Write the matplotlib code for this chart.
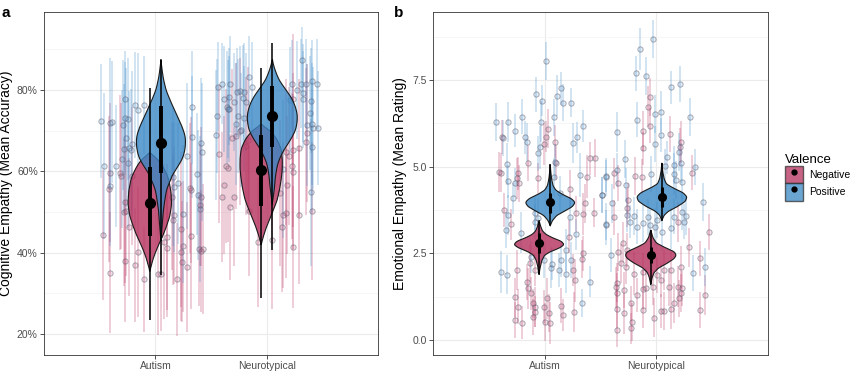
import numpy as np
import matplotlib.pyplot as plt
from matplotlib.patches import Patch
from matplotlib.lines import Line2D
from matplotlib.ticker import FuncFormatter, FixedLocator
from matplotlib.colors import to_rgba

plt.rcParams['font.family'] = ['Liberation Sans', 'DejaVu Sans']

neg_col = '#B5305C'
pos_col = '#3A88C5'
groups = ['Autism', 'Neurotypical']

# ---- panel a: per-participant accuracy (x jitter, mean %, interval half-width)
cog_aut_neg = [(0.58, 55.6, 18), (0.59, 59.7, 17), (0.53, 44.3, 16), (0.59, 35.1, 15), (0.68, 59.7, 19),
               (0.69, 58.9, 18), (0.79, 58.9, 17), (0.73, 52.4, 20), (0.74, 50.3, 16), (0.72, 49.9, 18),
               (0.76, 46.2, 17), (0.73, 38.0, 15), (0.82, 37.0, 14), (0.84, 40.1, 16), (0.90, 33.4, 13),
               (1.02, 34.7, 15), (1.05, 34.7, 14), (1.10, 43.9, 18), (1.10, 41.1, 17), (1.08, 42.7, 19),
               (1.16, 48.0, 16), (1.15, 53.8, 18), (1.17, 49.3, 17), (1.23, 45.7, 19), (1.32, 55.4, 18),
               (1.31, 55.8, 16), (1.41, 53.8, 17), (1.40, 51.7, 15), (1.32, 44.0, 18), (1.25, 41.5, 16),
               (1.23, 40.1, 17), (1.24, 37.8, 15), (1.28, 36.4, 16), (1.39, 40.8, 14), (1.41, 40.5, 15),
               (1.43, 40.8, 16), (1.19, 33.4, 14)]
cog_aut_pos = [(0.51, 72.4, 14), (0.59, 71.8, 16), (0.61, 72.2, 15), (0.54, 61.3, 18), (0.65, 61.3, 15),
               (0.70, 63.0, 17), (0.73, 77.7, 12), (0.71, 71.4, 16), (0.73, 73.0, 14), (0.75, 72.8, 15),
               (0.74, 68.3, 17), (0.72, 65.4, 16), (0.76, 65.7, 14), (0.78, 65.3, 15), (0.79, 66.7, 18),
               (0.75, 62.0, 16), (0.82, 76.3, 13), (0.84, 75.2, 14), (0.90, 76.3, 12), (1.16, 58.7, 17),
               (1.17, 56.2, 16), (1.20, 57.0, 15), (1.28, 63.8, 18), (1.33, 68.5, 15), (1.33, 75.7, 14),
               (1.41, 66.9, 16), (1.42, 64.8, 17), (1.37, 59.3, 15), (1.40, 50.7, 18), (1.38, 54.2, 16),
               (1.25, 49.5, 17), (0.59, 56.5, 15)]
cog_nt_neg = [(1.69, 68.1, 17), (1.72, 68.7, 18), (1.57, 64.3, 17), (1.63, 61.3, 19), (1.65, 60.7, 18),
              (1.62, 56.6, 17), (1.60, 53.6, 16), (1.67, 51.2, 18), (1.71, 53.8, 17), (1.84, 50.3, 16),
              (1.76, 69.8, 18), (1.81, 66.2, 17), (1.83, 67.7, 18), (2.24, 77.7, 16), (2.36, 69.4, 17),
              (2.35, 67.3, 18), (2.29, 65.7, 17), (2.24, 65.3, 19), (2.17, 64.8, 18), (2.20, 63.8, 17),
              (2.23, 61.3, 18), (2.24, 59.9, 19), (2.18, 56.6, 17), (2.12, 54.6, 18), (2.41, 50.3, 17),
              (2.17, 49.7, 16), (2.15, 49.3, 18), (2.29, 49.3, 17), (2.14, 46.4, 16), (2.24, 41.3, 15),
              (2.05, 43.1, 17), (1.92, 42.7, 16)]
cog_nt_pos = [(1.56, 80.8, 11), (1.60, 81.6, 10), (1.67, 81.4, 12), (1.62, 77.8, 13), (1.66, 78.4, 12),
              (1.64, 75.7, 14), (1.66, 75.4, 13), (1.65, 75.3, 12), (1.55, 73.6, 14), (1.71, 77.1, 12),
              (1.73, 79.4, 11), (1.76, 79.8, 11), (1.80, 79.6, 12), (1.79, 78.0, 13), (1.81, 77.1, 12),
              (1.84, 83.3, 10), (1.87, 80.8, 11), (1.74, 73.6, 14), (1.72, 71.6, 15), (1.54, 68.9, 16),
              (1.80, 73.0, 13), (1.77, 70.2, 14), (2.23, 81.4, 11), (2.27, 80.0, 12), (2.31, 81.6, 11),
              (2.33, 79.3, 12), (2.35, 81.6, 11), (2.41, 82.3, 10), (2.45, 81.5, 11), (2.32, 87.4, 8),
              (2.21, 77.5, 13), (2.33, 77.7, 12), (2.40, 77.4, 13), (2.39, 74.3, 14), (2.41, 71.6, 15),
              (2.42, 70.6, 15), (2.46, 70.6, 14), (2.36, 71.4, 15), (2.41, 65.9, 16), (2.15, 60.5, 17),
              (2.40, 54.8, 18)]

# ---- panel b: per-participant ratings
emo_aut_neg = [(1.03, 6.10, 0.55), (0.62, 5.86, 0.50), (1.01, 5.86, 0.45), (0.99, 5.65, 0.60), (1.09, 5.72, 0.48),
               (0.85, 5.10, 0.52), (1.10, 5.12, 0.50), (0.59, 4.84, 0.58), (0.61, 4.83, 0.55), (0.76, 4.81, 0.47),
               (0.75, 4.66, 0.60), (0.77, 4.52, 0.53), (0.94, 4.66, 0.45), (1.23, 4.37, 0.52), (1.41, 5.24, 0.48),
               (1.45, 5.24, 0.55), (1.38, 4.71, 0.62), (0.64, 3.75, 0.50), (0.70, 3.34, 0.45), (1.36, 3.94, 0.57),
               (1.28, 3.65, 0.50), (1.34, 3.63, 0.60), (1.44, 3.67, 0.42), (1.22, 2.98, 0.48), (1.33, 2.35, 0.55),
               (1.34, 2.50, 0.50), (1.27, 1.73, 0.62), (1.25, 2.02, 0.47), (0.87, 2.21, 0.53), (0.91, 2.02, 0.45),
               (0.75, 2.02, 0.58), (0.84, 1.68, 0.52), (0.85, 1.49, 0.60), (0.88, 1.35, 0.48), (0.73, 1.23, 0.55),
               (0.76, 0.96, 0.50), (0.90, 1.06, 0.42), (0.91, 0.96, 0.57), (0.91, 0.82, 0.45), (0.90, 0.67, 0.52),
               (1.02, 1.20, 0.60), (0.99, 0.96, 0.48), (1.04, 0.77, 0.55), (1.15, 0.99, 0.50), (1.16, 0.72, 0.46),
               (1.26, 0.82, 0.58), (0.73, 0.58, 0.52), (0.80, 0.50, 0.47), (1.00, 0.53, 0.55), (1.05, 0.50, 0.60)]
emo_aut_pos = [(1.01, 8.05, 0.55), (0.92, 7.09, 0.50), (0.98, 6.90, 0.45), (1.11, 7.05, 0.60), (1.15, 7.26, 0.48),
               (1.16, 6.85, 0.52), (1.24, 6.84, 0.42), (0.80, 6.44, 0.50), (0.67, 6.28, 0.58), (0.56, 6.30, 0.55),
               (0.73, 6.04, 0.47), (0.97, 6.30, 0.60), (1.08, 6.42, 0.53), (1.34, 6.17, 0.45), (0.63, 5.82, 0.52),
               (0.82, 5.85, 0.48), (0.84, 5.72, 0.55), (0.96, 5.56, 0.62), (0.94, 5.38, 0.50), (1.29, 5.85, 0.45),
               (1.25, 5.69, 0.57), (1.09, 5.14, 0.50), (0.66, 5.08, 0.60), (0.73, 4.54, 0.42), (0.67, 4.58, 0.48),
               (1.08, 4.71, 0.55), (1.14, 4.23, 0.50), (1.32, 4.76, 0.62), (1.55, 4.73, 0.47), (1.51, 4.18, 0.53),
               (0.72, 4.09, 0.45), (0.67, 3.60, 0.58), (0.65, 3.17, 0.52), (0.79, 3.10, 0.60), (0.91, 3.65, 0.48),
               (0.94, 3.53, 0.55), (0.91, 3.41, 0.50), (1.55, 3.32, 0.42), (1.23, 3.56, 0.57), (1.28, 3.05, 0.45),
               (1.24, 2.31, 0.52), (1.19, 2.60, 0.60), (1.15, 2.31, 0.48), (1.19, 1.92, 0.55), (1.13, 2.02, 0.50),
               (1.07, 2.19, 0.46), (1.06, 2.09, 0.58), (0.99, 2.31, 0.52), (0.88, 2.40, 0.47), (0.66, 1.89, 0.55),
               (0.61, 1.97, 0.60), (1.33, 1.06, 0.40), (1.41, 1.68, 0.45)]
emo_nt_neg = [(1.94, 7.00, 0.55), (1.93, 6.73, 0.60), (1.94, 6.18, 0.50), (1.88, 6.03, 0.58), (2.12, 5.94, 0.52),
              (2.22, 5.72, 0.60), (2.21, 5.56, 0.55), (1.88, 5.53, 0.48), (2.32, 4.83, 0.50), (1.62, 4.81, 0.45),
              (1.66, 4.52, 0.52), (1.81, 4.73, 0.55), (1.87, 4.71, 0.50), (1.75, 4.04, 0.48), (1.74, 3.80, 0.55),
              (1.62, 3.54, 0.50), (2.19, 3.41, 0.58), (2.47, 3.12, 0.52), (1.66, 2.55, 0.55), (1.70, 2.81, 0.60),
              (1.74, 2.60, 0.50), (1.68, 2.21, 0.55), (1.73, 2.10, 0.48), (1.80, 1.92, 0.62), (1.88, 1.97, 0.55),
              (2.01, 1.87, 0.50), (2.07, 2.02, 0.57), (2.13, 2.02, 0.52), (2.22, 2.10, 0.60), (2.29, 2.67, 0.55),
              (2.39, 2.36, 0.50), (1.65, 1.66, 0.55), (1.64, 1.52, 0.60), (1.71, 1.44, 0.52), (1.65, 1.35, 0.58),
              (1.83, 1.30, 0.50), (1.88, 1.46, 0.55), (1.91, 1.49, 0.60), (1.97, 1.54, 0.52), (2.04, 1.73, 0.48),
              (2.11, 1.54, 0.55), (2.19, 1.54, 0.60), (2.23, 1.49, 0.50), (2.22, 1.35, 0.55), (2.20, 1.20, 0.52),
              (2.16, 1.08, 0.58), (2.07, 0.84, 0.55), (2.04, 0.84, 0.50), (2.13, 0.91, 0.60), (1.88, 0.87, 0.52),
              (1.98, 0.65, 0.55), (1.77, 1.06, 0.50), (1.71, 0.77, 0.58), (1.78, 0.53, 0.55), (1.77, 0.34, 0.45),
              (1.65, 0.29, 0.50), (1.65, 0.91, 0.55), (2.39, 0.88, 0.52), (2.44, 1.30, 0.58)]
emo_nt_pos = [(1.97, 8.67, 0.55), (1.85, 8.39, 0.60), (1.82, 7.69, 0.50), (1.91, 7.61, 0.55), (2.13, 7.29, 0.48),
              (2.21, 7.38, 0.52), (1.99, 6.52, 0.55), (2.04, 6.59, 0.60), (1.83, 6.36, 0.50), (2.30, 6.42, 0.55),
              (1.65, 5.99, 0.58), (2.04, 5.91, 0.50), (1.99, 5.65, 0.52), (2.20, 5.43, 0.55), (2.10, 5.27, 0.48),
              (2.16, 5.05, 0.55), (2.08, 5.02, 0.50), (2.22, 5.11, 0.58), (2.35, 5.00, 0.52), (1.72, 5.21, 0.55),
              (1.65, 4.90, 0.50), (1.55, 4.71, 0.55), (1.95, 4.79, 0.52), (2.16, 4.79, 0.60), (2.23, 4.57, 0.50),
              (2.18, 4.62, 0.55), (1.73, 4.47, 0.48), (1.51, 4.18, 0.52), (1.60, 3.94, 0.55), (1.74, 3.61, 0.50),
              (1.80, 3.58, 0.55), (1.76, 3.41, 0.48), (1.55, 3.34, 0.60), (1.93, 3.56, 0.52), (1.88, 3.38, 0.55),
              (1.94, 3.32, 0.50), (1.99, 3.27, 0.55), (2.01, 3.46, 0.52), (1.83, 3.27, 0.50), (2.05, 3.12, 0.55),
              (2.13, 3.22, 0.58), (2.25, 3.41, 0.50), (2.27, 3.58, 0.55), (2.23, 3.70, 0.52), (2.16, 3.56, 0.50),
              (2.42, 3.97, 0.55), (1.59, 2.45, 0.50), (2.33, 1.94, 0.52), (2.44, 2.11, 0.55)]

# ---- violin outlines: (y, half-width) and group estimate (x, mean, 50% lo/hi, 95% lo/hi)
cog_viol_aut_neg = [(35.5, 0), (37, 0.015), (38.5, 0.03), (40, 0.05), (42, 0.08), (44, 0.115), (46.5, 0.15),
                    (49, 0.18), (52, 0.196), (55, 0.19), (58, 0.17), (60, 0.14), (62, 0.10), (63.5, 0.05), (64.5, 0)]
cog_viol_aut_pos = [(43, 0), (46, 0.01), (50, 0.02), (53, 0.035), (55.5, 0.05), (57.5, 0.08), (59.5, 0.11),
                    (61.5, 0.16), (63.5, 0.20), (66, 0.22), (68.5, 0.22), (71, 0.19), (74, 0.14), (77, 0.09),
                    (80, 0.045), (83, 0.02), (86, 0.005), (87.5, 0)]
cog_viol_nt_neg = [(42, 0), (44, 0.02), (46.5, 0.05), (48.5, 0.08), (50.5, 0.11), (53, 0.145), (55.5, 0.165),
                   (58, 0.18), (60.5, 0.19), (63, 0.19), (65.5, 0.18), (68, 0.14), (70, 0.08), (71.5, 0)]
cog_viol_nt_pos = [(52, 0), (54, 0.01), (56, 0.02), (58, 0.025), (60, 0.035), (62, 0.05), (64, 0.08), (66, 0.12),
                   (68, 0.17), (70.2, 0.21), (72.5, 0.225), (74.3, 0.223), (76.5, 0.20), (78.4, 0.165),
                   (80.5, 0.11), (82.5, 0.06), (84.5, 0.03), (86, 0.012), (87.5, 0)]
cog_est = {'aut_neg': (0.95, 52.3, 44.0, 61.0, 23.4, 80.5),
           'aut_pos': (1.05, 66.9, 59.5, 76.0, 34.5, 87.5),
           'nt_neg': (1.95, 60.2, 51.5, 69.0, 28.8, 85.3),
           'nt_pos': (2.05, 73.6, 66.0, 81.0, 40.6, 91.6)}

emo_viol_aut_neg = [(1.90, 0), (2.10, 0.01), (2.30, 0.025), (2.45, 0.05), (2.55, 0.10), (2.65, 0.18), (2.75, 0.225),
                    (2.85, 0.20), (2.95, 0.12), (3.05, 0.06), (3.15, 0.03), (3.30, 0.012), (3.45, 0)]
emo_viol_aut_pos = [(3.30, 0), (3.45, 0.02), (3.60, 0.06), (3.72, 0.13), (3.85, 0.20), (3.97, 0.223), (4.08, 0.19),
                    (4.20, 0.11), (4.32, 0.05), (4.45, 0.025), (4.65, 0.012), (4.85, 0.005), (5.05, 0)]
emo_viol_nt_neg = [(1.60, 0), (1.80, 0.012), (1.95, 0.03), (2.08, 0.07), (2.22, 0.15), (2.35, 0.21), (2.45, 0.228),
                   (2.55, 0.21), (2.68, 0.12), (2.80, 0.05), (2.95, 0.02), (3.17, 0)]
emo_viol_nt_pos = [(3.45, 0), (3.60, 0.02), (3.72, 0.06), (3.85, 0.14), (4.00, 0.21), (4.13, 0.225), (4.25, 0.19),
                   (4.37, 0.11), (4.50, 0.04), (4.65, 0.02), (4.85, 0.008), (5.10, 0)]
emo_est = {'aut_neg': (0.95, 2.79, 2.50, 3.08, 1.92, 3.41),
           'aut_pos': (1.05, 3.97, 3.65, 4.25, 3.32, 5.09),
           'nt_neg': (1.95, 2.45, 2.21, 2.69, 1.63, 3.17),
           'nt_pos': (2.05, 4.13, 3.85, 4.42, 3.46, 5.10)}


def draw_people(ax, rows, col):
    x, y, e = np.array(rows).T
    ax.vlines(x, y - e, y + e, colors=col, alpha=0.25, lw=1.3, zorder=2)
    return x, y


def draw_violin(ax, prof, xc, col):
    vy, vw = np.array(prof).T
    yy = np.linspace(vy[0], vy[-1], 300)
    ww = np.interp(yy, vy, vw)
    k = np.ones(15) / 15
    ww = np.convolve(np.pad(ww, 7, mode='edge'), k, mode='valid')
    ww[0] = ww[-1] = 0
    ax.fill_betweenx(yy, xc - ww, xc + ww, facecolor=col, alpha=0.8,
                     edgecolor='none', zorder=4)
    ax.plot(np.r_[xc - ww, (xc + ww)[::-1]], np.r_[yy, yy[::-1]], color='#1a1a1a', lw=0.8, zorder=4)


def draw_est(ax, est, big):
    x, m, lo50, hi50, lo95, hi95 = est
    ax.plot([x, x], [lo95, hi95], color='black', lw=1.1, zorder=5, solid_capstyle='butt')
    ax.plot([x, x], [lo50, hi50], color='black', lw=2.8 if big else 2.2, zorder=5, solid_capstyle='butt')
    ax.plot([x], [m], 'o', color='black', ms=7 if big else 5.5, zorder=5)


def panel(ax, people, viols, est, big):
    pts = []
    for rows, col in people:
        pts.append((draw_people(ax, rows, col), col))
    for (x, y), col in pts:
        ax.plot(x, y, 'o', ms=3.8, mfc=to_rgba(col, 0.15), mec=to_rgba('#5c5c70', 0.5),
                mew=0.7, ls='none', zorder=3)
    for key, col in [('aut_neg', neg_col), ('aut_pos', pos_col), ('nt_neg', neg_col), ('nt_pos', pos_col)]:
        draw_violin(ax, viols[key], est[key][0], col)
        draw_est(ax, est[key], big)
    ax.set_xlim(0, 3)
    ax.set_xticks([1, 2])
    ax.set_xticklabels(groups)
    ax.grid(True, which='major', color='#EBEBEB', lw=0.8, zorder=0)
    ax.grid(True, which='minor', axis='y', color='#F3F3F3', lw=0.5, zorder=0)
    ax.set_axisbelow(True)
    ax.tick_params(which='major', colors='#333333', labelcolor='#4D4D4D', labelsize=7.5,
                   length=3, width=0.6, pad=1.5)
    ax.tick_params(which='minor', length=0)
    for s in ax.spines.values():
        s.set_color('#333333')
        s.set_linewidth(0.6)


fig = plt.figure(figsize=(8.5, 3.71), dpi=100)
ax1 = fig.add_axes([0.0518, 0.0431, 0.393, 0.9246])
ax2 = fig.add_axes([0.5094, 0.0431, 0.3941, 0.9246])

panel(ax1, [(cog_aut_neg, neg_col), (cog_nt_neg, neg_col), (cog_aut_pos, pos_col), (cog_nt_pos, pos_col)],
      {'aut_neg': cog_viol_aut_neg, 'aut_pos': cog_viol_aut_pos, 'nt_neg': cog_viol_nt_neg, 'nt_pos': cog_viol_nt_pos},
      cog_est, True)
ax1.set_ylim(14.8, 99.2)
ax1.set_yticks([20, 40, 60, 80])
ax1.yaxis.set_minor_locator(FixedLocator([30, 50, 70, 90]))
ax1.yaxis.set_major_formatter(FuncFormatter(lambda v, p: f'{v:.0f}%'))
ax1.set_ylabel('Cognitive Empathy (Mean Accuracy)', fontsize=10, labelpad=3)

panel(ax2, [(emo_aut_neg, neg_col), (emo_nt_neg, neg_col), (emo_aut_pos, pos_col), (emo_nt_pos, pos_col)],
      {'aut_neg': emo_viol_aut_neg, 'aut_pos': emo_viol_aut_pos, 'nt_neg': emo_viol_nt_neg, 'nt_pos': emo_viol_nt_pos},
      emo_est, False)
ax2.set_ylim(-0.43, 9.46)
ax2.set_yticks([0, 2.5, 5, 7.5])
ax2.yaxis.set_minor_locator(FixedLocator([1.25, 3.75, 6.25, 8.75]))
ax2.yaxis.set_major_formatter(FuncFormatter(lambda v, p: f'{v:.1f}'))
ax2.set_ylabel('Emotional Empathy (Mean Rating)', fontsize=10, labelpad=4)

fig.text(0.002, 0.985, 'a', fontsize=11, fontweight='bold', va='top')
fig.text(0.463, 0.985, 'b', fontsize=11, fontweight='bold', va='top')

handles = [(Patch(facecolor=neg_col, alpha=0.75, edgecolor='#333333'),
            Line2D([], [], marker='o', color='black', ms=3.5, ls='none')),
           (Patch(facecolor=pos_col, alpha=0.75, edgecolor='#333333'),
            Line2D([], [], marker='o', color='black', ms=3.5, ls='none'))]
leg = fig.legend(handles, ['Negative', 'Positive'], title='Valence', loc='upper left',
                 bbox_to_anchor=(0.924, 0.585), frameon=False, fontsize=7.5, title_fontsize=9.5,
                 handlelength=1.7, handleheight=2.2, handletextpad=0.6, labelspacing=0.0,
                 borderaxespad=0, borderpad=0)
leg._legend_box.align = 'left'

fig.savefig('out.png', dpi=100)
